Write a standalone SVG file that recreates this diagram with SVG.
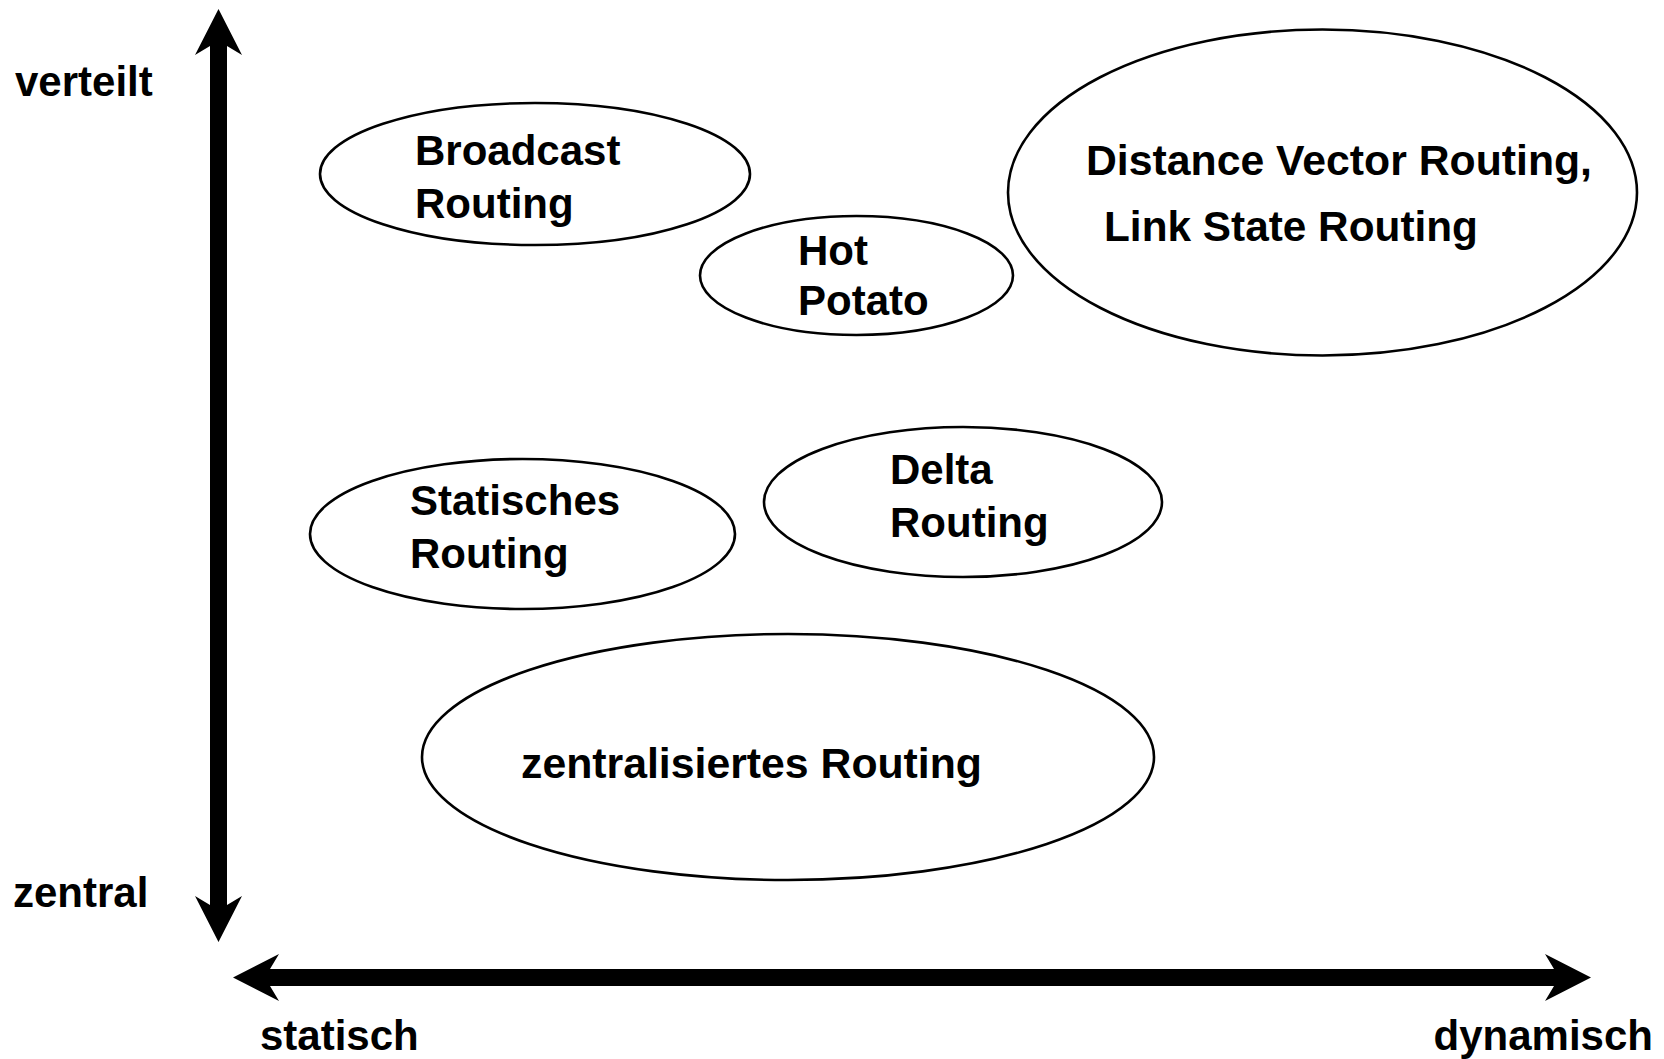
<svg xmlns="http://www.w3.org/2000/svg" width="1664" height="1059" viewBox="0 0 1664 1059">
<style>
text{font-family:"Liberation Sans",Arial,sans-serif;font-weight:bold;font-size:42px;fill:#000}
.node ellipse{fill:#fff;stroke:#000;stroke-width:2.6}
.axis{stroke:#000;stroke-width:17;fill:none}
</style>
<defs>
<marker id="ah" markerUnits="userSpaceOnUse" markerWidth="48" markerHeight="48" viewBox="0 0 48 48" refX="10" refY="24" orient="auto-start-reverse">
<path d="M46,24 L0,0.5 L9,15.5 L9,32.5 L0,47.5 Z" fill="#000"/>
</marker>
</defs>
<rect width="1664" height="1059" fill="#fff"/>
<g id="connectors">
<line class="axis" x1="218.5" y1="45" x2="218.5" y2="906" marker-start="url(#ah)" marker-end="url(#ah)"/>
<line class="axis" x1="269" y1="977.5" x2="1555" y2="977.5" marker-start="url(#ah)" marker-end="url(#ah)"/>
</g>
<g id="labels">
<text x="15" y="96">verteilt</text>
<text x="13" y="907">zentral</text>
<text x="260" y="1050">statisch</text>
<text x="1653" y="1050" text-anchor="end">dynamisch</text>
</g>
<g id="broadcast" class="node">
<ellipse cx="535" cy="174" rx="215" ry="71"/>
<text x="415" y="165">Broadcast</text>
<text x="415" y="218">Routing</text>
</g>
<g id="hotpotato" class="node">
<ellipse cx="856.5" cy="275.5" rx="156.5" ry="59.5"/>
<text x="798" y="265">Hot</text>
<text x="798" y="315">Potato</text>
</g>
<g id="dvls" class="node">
<ellipse cx="1322.5" cy="192.5" rx="314.5" ry="163"/>
<text x="1086" y="175" textLength="506" lengthAdjust="spacingAndGlyphs">Distance Vector Routing,</text>
<text x="1104" y="241" textLength="374" lengthAdjust="spacingAndGlyphs">Link State Routing</text>
</g>
<g id="statisches" class="node">
<ellipse cx="522.5" cy="534" rx="212.5" ry="75"/>
<text x="410" y="515">Statisches</text>
<text x="410" y="568">Routing</text>
</g>
<g id="delta" class="node">
<ellipse cx="963" cy="502" rx="199" ry="75"/>
<text x="890" y="484">Delta</text>
<text x="890" y="537">Routing</text>
</g>
<g id="zentralisiert" class="node">
<ellipse cx="788" cy="757" rx="366" ry="123"/>
<text x="521" y="778" textLength="461" lengthAdjust="spacingAndGlyphs">zentralisiertes Routing</text>
</g>
</svg>
